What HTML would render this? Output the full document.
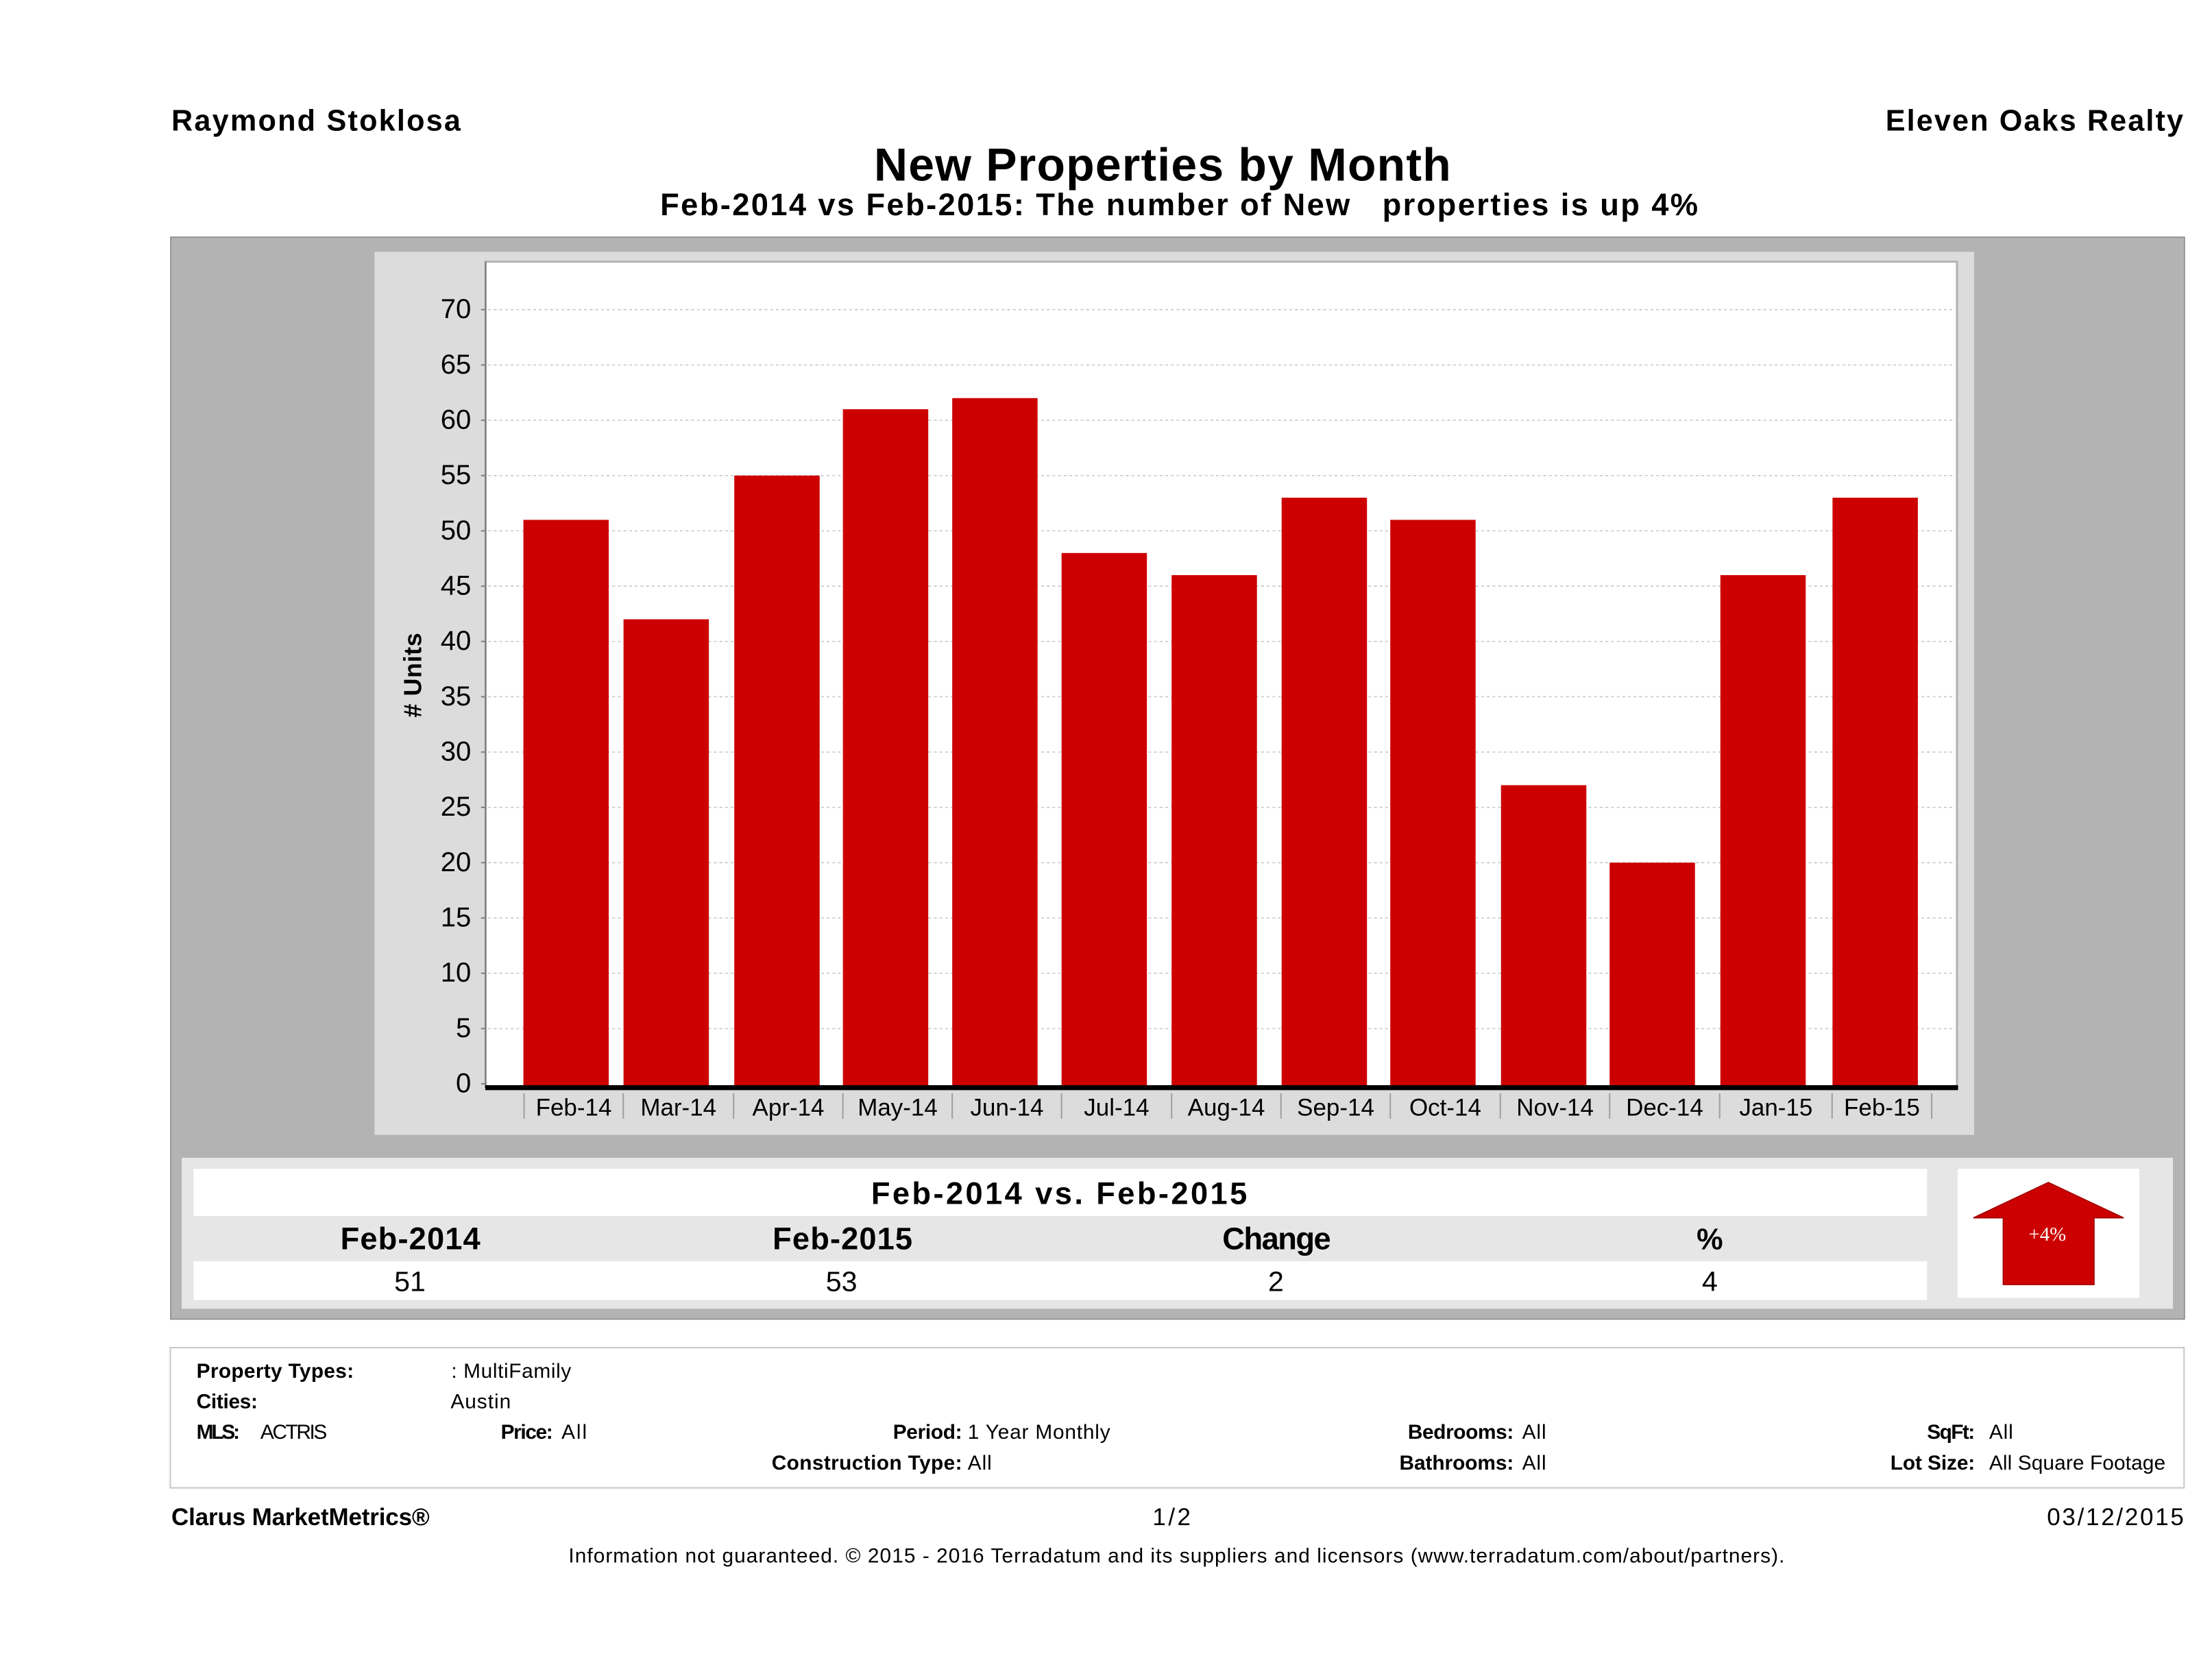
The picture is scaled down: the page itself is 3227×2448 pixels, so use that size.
<!DOCTYPE html>
<html>
<head>
<meta charset="utf-8">
<style>
  html, body { margin:0; padding:0; background:#ffffff; }
  svg { display:block; }
  text { font-family: "Liberation Sans", "DejaVu Sans", sans-serif; fill:#000; }
  .b { font-weight:bold; }
  .serif { font-family: "Liberation Serif", serif; }
</style>
</head>
<body>
<svg width="3227" height="2448" viewBox="0 0 1568 1189.48" preserveAspectRatio="none" xmlns="http://www.w3.org/2000/svg">
  <rect x="0" y="0" width="1568" height="1189.48" fill="#ffffff"/>

  <!-- Header -->
  <text class="b" x="121.5" y="92.6" font-size="21" textLength="205" lengthAdjust="spacing">Raymond Stoklosa</text>
  <text class="b" x="1336.6" y="92.6" font-size="21" textLength="211" lengthAdjust="spacing">Eleven Oaks Realty</text>

  <text class="b" x="619.5" y="128" font-size="33" textLength="409" lengthAdjust="spacing">New Properties by Month</text>
  <text class="b" x="468" y="152.6" font-size="22" textLength="735.6" lengthAdjust="spacing" style="white-space:pre" xml:space="preserve">Feb-2014 vs Feb-2015: The number of New   properties is up 4%</text>

  <!-- Outer grey box -->
  <rect x="121" y="168.1" width="1427.5" height="767" fill="#b3b3b3" stroke="#8a8a8a" stroke-width="0.8"/>

  <!-- Chart panel -->
  <rect x="265.5" y="178.5" width="1133.9" height="626" fill="#dcdcdc"/>

  <!-- Plot area -->
  <rect x="344.2" y="185.5" width="1043" height="585" fill="#ffffff" stroke="#b0b0b0" stroke-width="1.4"/>

  <!-- Gridlines -->
  <g stroke="#cacaca" stroke-width="0.8" stroke-dasharray="2 2">
    <line x1="346" x2="1386" y1="729.1" y2="729.1"/>
    <line x1="346" x2="1386" y1="689.9" y2="689.9"/>
    <line x1="346" x2="1386" y1="650.7" y2="650.7"/>
    <line x1="346" x2="1386" y1="611.5" y2="611.5"/>
    <line x1="346" x2="1386" y1="572.3" y2="572.3"/>
    <line x1="346" x2="1386" y1="533.1" y2="533.1"/>
    <line x1="346" x2="1386" y1="493.9" y2="493.9"/>
    <line x1="346" x2="1386" y1="454.7" y2="454.7"/>
    <line x1="346" x2="1386" y1="415.5" y2="415.5"/>
    <line x1="346" x2="1386" y1="376.3" y2="376.3"/>
    <line x1="346" x2="1386" y1="337.1" y2="337.1"/>
    <line x1="346" x2="1386" y1="297.9" y2="297.9"/>
    <line x1="346" x2="1386" y1="258.7" y2="258.7"/>
    <line x1="346" x2="1386" y1="219.5" y2="219.5"/>
  </g>

  <!-- Bars -->
  <g fill="#cc0000">
    <rect x="371"    y="368.5" width="60.5" height="401"/>
    <rect x="442"    y="439.0" width="60.5" height="330.5"/>
    <rect x="520.5"  y="337.1" width="60.5" height="432.4"/>
    <rect x="597.5"  y="290.1" width="60.5" height="479.4"/>
    <rect x="675"    y="282.2" width="60.5" height="487.3"/>
    <rect x="752.5"  y="392.0" width="60.5" height="377.5"/>
    <rect x="830.5"  y="407.7" width="60.5" height="361.8"/>
    <rect x="908.5"  y="352.8" width="60.5" height="416.7"/>
    <rect x="985.5"  y="368.5" width="60.5" height="401"/>
    <rect x="1064"   y="556.6" width="60.5" height="212.9"/>
    <rect x="1141"   y="611.5" width="60.5" height="158"/>
    <rect x="1219.5" y="407.7" width="60.5" height="361.8"/>
    <rect x="1299"   y="352.8" width="60.5" height="416.7"/>
  </g>

  <!-- Left axis line and ticks -->
  <line x1="344.2" y1="185.5" x2="344.2" y2="771" stroke="#808080" stroke-width="1.2"/>
  <g stroke="#808080" stroke-width="1">
    <line x1="341" x2="344.2" y1="768.3" y2="768.3"/>
    <line x1="341" x2="344.2" y1="729.1" y2="729.1"/>
    <line x1="341" x2="344.2" y1="689.9" y2="689.9"/>
    <line x1="341" x2="344.2" y1="650.7" y2="650.7"/>
    <line x1="341" x2="344.2" y1="611.5" y2="611.5"/>
    <line x1="341" x2="344.2" y1="572.3" y2="572.3"/>
    <line x1="341" x2="344.2" y1="533.1" y2="533.1"/>
    <line x1="341" x2="344.2" y1="493.9" y2="493.9"/>
    <line x1="341" x2="344.2" y1="454.7" y2="454.7"/>
    <line x1="341" x2="344.2" y1="415.5" y2="415.5"/>
    <line x1="341" x2="344.2" y1="376.3" y2="376.3"/>
    <line x1="341" x2="344.2" y1="337.1" y2="337.1"/>
    <line x1="341" x2="344.2" y1="297.9" y2="297.9"/>
    <line x1="341" x2="344.2" y1="258.7" y2="258.7"/>
    <line x1="341" x2="344.2" y1="219.5" y2="219.5"/>
  </g>

  <!-- X axis thick line -->
  <line x1="344" y1="771" x2="1388" y2="771" stroke="#000" stroke-width="3.5"/>

  <!-- Y labels -->
  <g font-size="19.5" text-anchor="end" fill="#222">
    <text x="334" y="774.3">0</text>
    <text x="334" y="735.1">5</text>
    <text x="334" y="695.9">10</text>
    <text x="334" y="656.7">15</text>
    <text x="334" y="617.5">20</text>
    <text x="334" y="578.3">25</text>
    <text x="334" y="539.1">30</text>
    <text x="334" y="499.9">35</text>
    <text x="334" y="460.7">40</text>
    <text x="334" y="421.5">45</text>
    <text x="334" y="382.3">50</text>
    <text x="334" y="343.1">55</text>
    <text x="334" y="303.9">60</text>
    <text x="334" y="264.7">65</text>
    <text x="334" y="225.5">70</text>
  </g>

  <!-- Y axis title -->
  <text class="b" transform="translate(298.6,508.6) rotate(-90)" x="0" y="0" font-size="17.5" textLength="60" lengthAdjust="spacing"># Units</text>

  <!-- X separators -->
  <g stroke="#a0a0a0" stroke-width="1">
    <line x1="371.5" x2="371.5" y1="775" y2="793"/>
    <line x1="441.8" x2="441.8" y1="775" y2="793"/>
    <line x1="520" x2="520" y1="775" y2="793"/>
    <line x1="597.5" x2="597.5" y1="775" y2="793"/>
    <line x1="675" x2="675" y1="775" y2="793"/>
    <line x1="752.5" x2="752.5" y1="775" y2="793"/>
    <line x1="830.5" x2="830.5" y1="775" y2="793"/>
    <line x1="908" x2="908" y1="775" y2="793"/>
    <line x1="985.5" x2="985.5" y1="775" y2="793"/>
    <line x1="1063.5" x2="1063.5" y1="775" y2="793"/>
    <line x1="1141" x2="1141" y1="775" y2="793"/>
    <line x1="1219" x2="1219" y1="775" y2="793"/>
    <line x1="1298.7" x2="1298.7" y1="775" y2="793"/>
    <line x1="1369.3" x2="1369.3" y1="775" y2="793"/>
  </g>

  <!-- X labels -->
  <g font-size="17" text-anchor="middle" fill="#222">
    <text x="406.7" y="790.7">Feb-14</text>
    <text x="480.9" y="790.7">Mar-14</text>
    <text x="558.8" y="790.7">Apr-14</text>
    <text x="636.3" y="790.7">May-14</text>
    <text x="713.8" y="790.7">Jun-14</text>
    <text x="791.5" y="790.7">Jul-14</text>
    <text x="869.3" y="790.7">Aug-14</text>
    <text x="946.8" y="790.7">Sep-14</text>
    <text x="1024.5" y="790.7">Oct-14</text>
    <text x="1102.3" y="790.7">Nov-14</text>
    <text x="1180" y="790.7">Dec-14</text>
    <text x="1258.9" y="790.7">Jan-15</text>
    <text x="1334" y="790.7">Feb-15</text>
  </g>

  <!-- Comparison table -->
  <rect x="128.8" y="820.7" width="1411.5" height="107" fill="#e6e6e6"/>
  <rect x="137.2" y="828.6" width="1228.8" height="33.4" fill="#ffffff"/>
  <rect x="137.2" y="894" width="1228.8" height="27.6" fill="#ffffff"/>
  <rect x="1387.7" y="828.5" width="128.8" height="91.5" fill="#ffffff"/>

  <text class="b" x="617.5" y="853.6" font-size="22" textLength="266.5" lengthAdjust="spacing">Feb-2014 vs. Feb-2015</text>

  <text class="b" x="241.3" y="885.5" font-size="22" textLength="99.2" lengthAdjust="spacing">Feb-2014</text>
  <text class="b" x="547.7" y="885.5" font-size="22" textLength="99.1" lengthAdjust="spacing">Feb-2015</text>
  <text class="b" x="866.5" y="885.5" font-size="22" textLength="77" lengthAdjust="spacing">Change</text>
  <text class="b" x="1212" y="885.5" font-size="21" text-anchor="middle">%</text>

  <g font-size="20" text-anchor="middle">
    <text x="290.6" y="915.2">51</text>
    <text x="596.5" y="915.2">53</text>
    <text x="904.5" y="915.2">2</text>
    <text x="1212" y="915.2">4</text>
  </g>

  <!-- Arrow -->
  <polygon points="1452,838.2 1505.4,863.3 1484.4,863.3 1484.4,910.6 1420,910.6 1420,863.3 1398.8,863.3" fill="#cc0000" stroke="#a00000" stroke-width="0.8"/>
  <text class="serif" x="1451.3" y="879.5" font-size="14" text-anchor="middle" style="fill:#ffffff">+4%</text>

  <!-- Info box -->
  <rect x="120.7" y="955.3" width="1427.5" height="99.4" fill="#ffffff" stroke="#c8c8c8" stroke-width="1"/>

  <g font-size="14.5">
    <text class="b" x="139.3" y="976.7" textLength="111.5" lengthAdjust="spacing">Property Types:</text>
    <text x="319.9" y="976.7" textLength="85" lengthAdjust="spacing">: MultiFamily</text>

    <text class="b" x="139.3" y="998.2" textLength="43.4" lengthAdjust="spacing">Cities:</text>
    <text x="319.4" y="998.2" textLength="42.7" lengthAdjust="spacing">Austin</text>

    <text class="b" x="139.3" y="1020" textLength="30.8" lengthAdjust="spacing">MLS:</text>
    <text x="184.6" y="1020" textLength="47.3" lengthAdjust="spacing">ACTRIS</text>
    <text class="b" x="355" y="1020" textLength="37" lengthAdjust="spacing">Price:</text>
    <text x="398" y="1020" textLength="18" lengthAdjust="spacing">All</text>
    <text class="b" x="633" y="1020" textLength="49" lengthAdjust="spacing">Period:</text>
    <text x="686" y="1020" textLength="101" lengthAdjust="spacing">1 Year Monthly</text>
    <text class="b" x="998" y="1020" textLength="75" lengthAdjust="spacing">Bedrooms:</text>
    <text x="1079" y="1020" textLength="17" lengthAdjust="spacing">All</text>
    <text class="b" x="1366" y="1020" textLength="34" lengthAdjust="spacing">SqFt:</text>
    <text x="1410" y="1020" textLength="17" lengthAdjust="spacing">All</text>

    <text class="b" x="547" y="1041.8" textLength="135" lengthAdjust="spacing">Construction Type:</text>
    <text x="686" y="1041.8" textLength="17" lengthAdjust="spacing">All</text>
    <text class="b" x="992" y="1041.8" textLength="81" lengthAdjust="spacing">Bathrooms:</text>
    <text x="1079" y="1041.8" textLength="17" lengthAdjust="spacing">All</text>
    <text class="b" x="1340" y="1041.8" textLength="60" lengthAdjust="spacing">Lot Size:</text>
    <text x="1410" y="1041.8" textLength="125" lengthAdjust="spacing">All Square Footage</text>
  </g>

  <!-- Footer -->
  <text class="b" x="121.5" y="1081.1" font-size="17" textLength="183" lengthAdjust="spacing">Clarus MarketMetrics®</text>
  <text x="817" y="1081.1" font-size="17" textLength="27" lengthAdjust="spacing">1/2</text>
  <text x="1451" y="1081.1" font-size="17" textLength="97" lengthAdjust="spacing">03/12/2015</text>

  <text x="403" y="1107.5" font-size="14.5" textLength="862" lengthAdjust="spacing">Information not guaranteed. © 2015 - 2016 Terradatum and its suppliers and licensors (www.terradatum.com/about/partners).</text>
</svg>
</body>
</html>
